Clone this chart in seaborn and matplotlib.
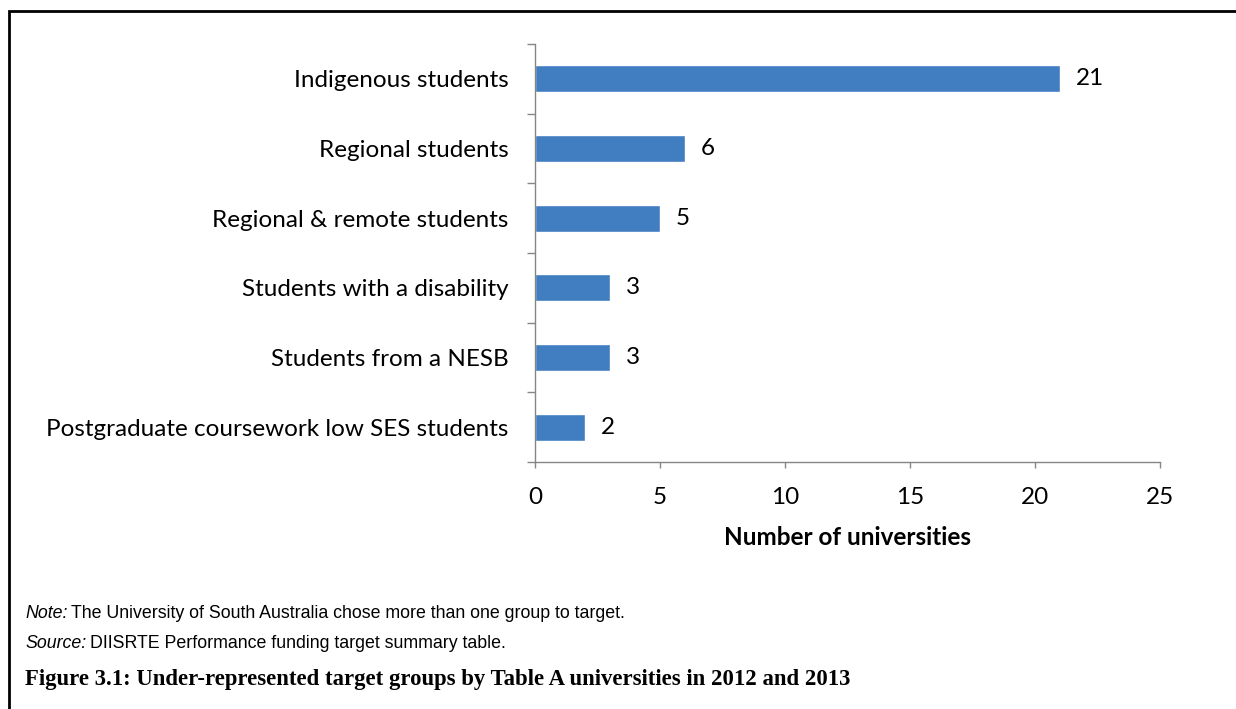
import matplotlib
matplotlib.use("Agg")
import matplotlib.pyplot as plt
import seaborn as sns
import pandas as pd
from matplotlib.patches import Rectangle
from matplotlib.ticker import FixedLocator

categories = [
    "Indigenous students",
    "Regional students",
    "Regional & remote students",
    "Students with a disability",
    "Students from a NESB",
    "Postgraduate coursework low SES students",
]
counts = [21, 6, 5, 3, 3, 2]
x_ticks = [0, 5, 10, 15, 20, 25]

df = pd.DataFrame({"group": categories, "n": counts})

sns.set_theme(style="white")
plt.rcParams["font.family"] = ["Lato", "DejaVu Sans"]
plt.rcParams["text.color"] = "black"
plt.rcParams["xtick.color"] = "#868686"
plt.rcParams["ytick.color"] = "#868686"
plt.rcParams["xtick.labelcolor"] = "black"
plt.rcParams["ytick.labelcolor"] = "black"
plt.rcParams["axes.labelcolor"] = "black"

FS = 17.5

fig = plt.figure(figsize=(12.36, 7.09), dpi=100)
ax = fig.add_axes([535 / 1236, 1 - 462 / 709, 625 / 1236, 418 / 709])

sns.barplot(data=df, x="n", y="group", orient="h", color="#417DC1",
            saturation=1, width=0.39, ax=ax)

ax.set_xlim(0, 25)
ax.set_ylim(len(categories) - 0.5, -0.5)
ax.set_xticks(x_ticks)
ax.set_xticklabels([str(t) for t in x_ticks], fontsize=FS)
ax.yaxis.set_major_locator(FixedLocator(range(len(categories))))
ax.set_yticklabels(categories, fontsize=FS)
ax.yaxis.set_minor_locator(FixedLocator([i - 0.5 for i in range(len(categories) + 1)]))

for s in ["top", "right"]:
    ax.spines[s].set_visible(False)
for s in ["left", "bottom"]:
    ax.spines[s].set_color("#868686")
    ax.spines[s].set_linewidth(1.0)

ax.tick_params(axis="y", which="major", left=False, length=0, pad=19)
ax.tick_params(axis="y", which="minor", left=True, length=6, width=1.0, direction="out")
ax.tick_params(axis="x", which="major", bottom=True, length=4, width=1.0,
               direction="out", pad=14)
ax.set_ylabel("")
ax.set_xlabel("Number of universities", fontsize=FS, fontweight="bold", labelpad=13)

for i, v in enumerate(counts):
    ax.annotate(str(v), xy=(v, i), xytext=(11.5, 0), textcoords="offset points",
                va="center", ha="left", fontsize=FS)

# outer frame of the figure panel
fig.add_artist(Rectangle((9 / 1236, -0.05), 1.2, 1 - 11 / 709 + 0.05,
                         transform=fig.transFigure, fill=False,
                         edgecolor="black", linewidth=2, clip_on=False))

note_x = 25 / 1236
NOTE_FS = 12.8


def two_part(y, head, tail):
    t = fig.text(note_x, y, head, fontsize=NOTE_FS, va="center",
                 family="Liberation Sans", style="italic")
    fig.canvas.draw()
    bb = t.get_window_extent()
    fig.text((bb.x1 + 4) / fig.bbox.width, y, tail, fontsize=NOTE_FS, va="center",
             family="Liberation Sans", style="normal")


two_part(1 - 613 / 709, "Note:", "The University of South Australia chose more than one group to target.")
two_part(1 - 643 / 709, "Source:", "DIISRTE Performance funding target summary table.")

fig.text(note_x, 1 - 679 / 709,
         "Figure 3.1: Under-represented target groups by Table A universities in 2012 and 2013",
         fontsize=16.4, fontweight="bold", va="center", family="Liberation Serif")

fig.savefig("out.png", dpi=100)
